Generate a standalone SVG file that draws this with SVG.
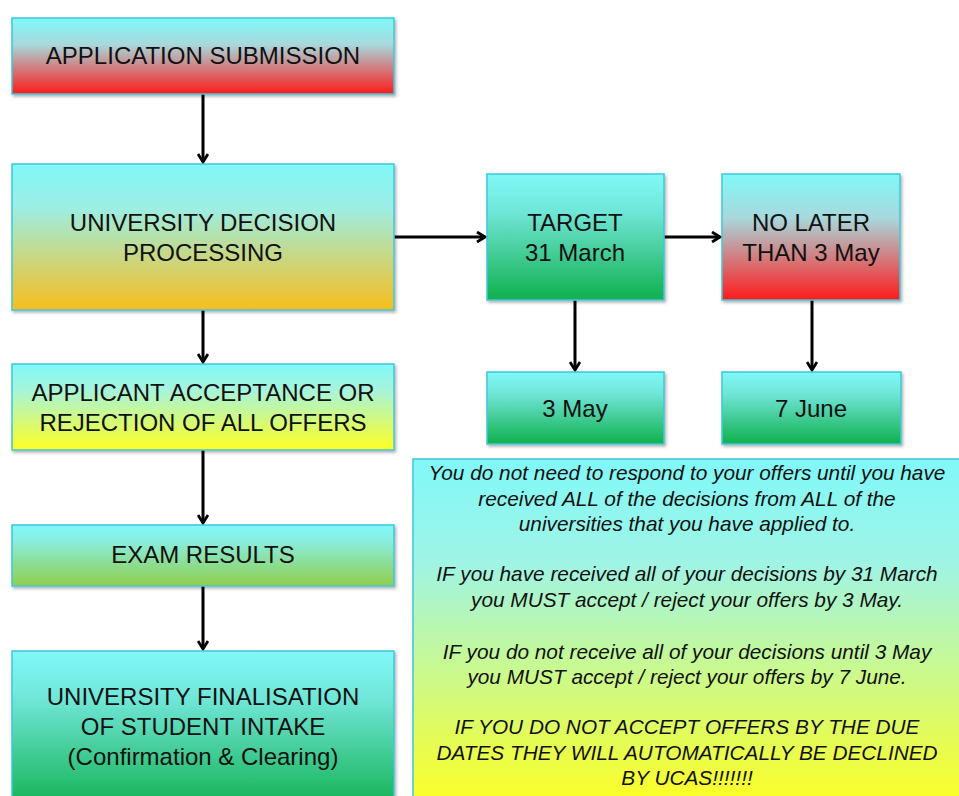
<svg xmlns="http://www.w3.org/2000/svg" width="959" height="796" viewBox="0 0 959 796">
<defs>
<linearGradient id="gRed" x1="0" y1="0" x2="0" y2="1"><stop offset="0" stop-color="#80F8F8"/><stop offset="0.35" stop-color="#A8D8DC"/><stop offset="1" stop-color="#FF1A1A"/></linearGradient>
<linearGradient id="gOrange" x1="0" y1="0" x2="0" y2="1"><stop offset="0" stop-color="#80F8F8"/><stop offset="0.3" stop-color="#9CEEE4"/><stop offset="1" stop-color="#F8BE1C"/></linearGradient>
<linearGradient id="gYellow" x1="0" y1="0" x2="0" y2="1"><stop offset="0" stop-color="#80F8F8"/><stop offset="0.3" stop-color="#A6F4DC"/><stop offset="1" stop-color="#FFFF20"/></linearGradient>
<linearGradient id="gLime" x1="0" y1="0" x2="0" y2="1"><stop offset="0" stop-color="#80F8F8"/><stop offset="0.25" stop-color="#88EEE0"/><stop offset="1" stop-color="#90CE4C"/></linearGradient>
<linearGradient id="gGreen" x1="0" y1="0" x2="0" y2="1"><stop offset="0" stop-color="#80F8F8"/><stop offset="0.3" stop-color="#70E6D8"/><stop offset="1" stop-color="#10B04E"/></linearGradient>
<linearGradient id="gNote" x1="0" y1="0" x2="0" y2="1"><stop offset="0" stop-color="#80F8F8"/><stop offset="0.3" stop-color="#A0F4E4"/><stop offset="1" stop-color="#FFFF20"/></linearGradient>
<filter id="sh" x="-5%" y="-5%" width="110%" height="115%"><feDropShadow dx="1.5" dy="2" stdDeviation="1.5" flood-color="#000" flood-opacity="0.3"/></filter>
<marker id="ah" viewBox="0 0 12 12" refX="10" refY="6" markerWidth="12" markerHeight="12" markerUnits="userSpaceOnUse" orient="auto"><path d="M2,1 L10,6 L2,11" fill="none" stroke="#000" stroke-width="2.8"/></marker>
</defs>
<style>
.box{stroke:#3CC8DC;stroke-width:1.5;filter:url(#sh)}
.t{font-family:"Liberation Sans",Arial,sans-serif;font-size:24px;fill:#111;text-anchor:middle}
.n{font-family:"Liberation Sans",Arial,sans-serif;font-size:20.8px;font-style:italic;fill:#111;text-anchor:middle}
.c{stroke:#000;stroke-width:3;fill:none;marker-end:url(#ah)}
</style>
<rect width="959" height="796" fill="#fff"/>
<g id="connectors">
<line class="c" x1="203" y1="94" x2="203" y2="162"/>
<line class="c" x1="203" y1="310" x2="203" y2="362"/>
<line class="c" x1="203" y1="450" x2="203" y2="523"/>
<line class="c" x1="203" y1="586" x2="203" y2="649"/>
<line class="c" x1="394" y1="237" x2="485" y2="237"/>
<line class="c" x1="664" y1="237" x2="720" y2="237"/>
<line class="c" x1="575" y1="300" x2="575" y2="370"/>
<line class="c" x1="812" y1="300" x2="812" y2="370"/>
</g>
<g id="submission">
<rect class="box" x="12" y="18" width="382" height="76" fill="url(#gRed)"/>
<text class="t" x="203" y="64">APPLICATION  SUBMISSION</text>
</g>
<g id="decision">
<rect class="box" x="12" y="164" width="382" height="146" fill="url(#gOrange)"/>
<text class="t" x="203" y="231">UNIVERSITY  DECISION</text>
<text class="t" x="203" y="261">PROCESSING</text>
</g>
<g id="acceptance">
<rect class="box" x="12" y="364" width="382" height="86" fill="url(#gYellow)"/>
<text class="t" x="203" y="401">APPLICANT ACCEPTANCE OR</text>
<text class="t" x="203" y="431">REJECTION OF ALL OFFERS</text>
</g>
<g id="exam">
<rect class="box" x="12" y="525" width="382" height="61" fill="url(#gLime)"/>
<text class="t" x="203" y="563">EXAM  RESULTS</text>
</g>
<g id="finalisation">
<rect class="box" x="12" y="651" width="382" height="160" fill="url(#gGreen)"/>
<text class="t" x="203" y="705">UNIVERSITY  FINALISATION</text>
<text class="t" x="203" y="735">OF STUDENT INTAKE</text>
<text class="t" x="203" y="765">(Confirmation &amp; Clearing)</text>
</g>
<g id="target">
<rect class="box" x="487" y="174" width="177" height="126" fill="url(#gGreen)"/>
<text class="t" x="575" y="231">TARGET</text>
<text class="t" x="575" y="261">31 March</text>
</g>
<g id="nolater">
<rect class="box" x="722" y="174" width="178" height="126" fill="url(#gRed)"/>
<text class="t" x="811" y="231">NO LATER</text>
<text class="t" x="811" y="261">THAN 3 May</text>
</g>
<g id="may3">
<rect class="box" x="487" y="372" width="177" height="72" fill="url(#gGreen)"/>
<text class="t" x="575" y="417">3 May</text>
</g>
<g id="june7">
<rect class="box" x="722" y="372" width="179" height="72" fill="url(#gGreen)"/>
<text class="t" x="811" y="417">7 June</text>
</g>
<g id="note">
<rect class="box" x="413" y="459" width="560" height="350" fill="url(#gNote)"/>
<text class="n" x="687" y="480">You do not need to respond to your offers until you have</text>
<text class="n" x="687" y="506">received ALL of the decisions from ALL of the</text>
<text class="n" x="687" y="531">universities that you have applied to.</text>
<text class="n" x="687" y="581">IF you have received all of your decisions by 31 March</text>
<text class="n" x="687" y="607">you MUST accept / reject your offers by 3 May.</text>
<text class="n" x="687" y="659">IF you do not receive all of your decisions until 3 May</text>
<text class="n" x="687" y="684">you MUST accept / reject your offers by 7 June.</text>
<text class="n" x="687" y="734">IF YOU DO NOT ACCEPT OFFERS BY THE DUE</text>
<text class="n" x="687" y="760">DATES THEY WILL AUTOMATICALLY BE DECLINED</text>
<text class="n" x="687" y="785">BY UCAS!!!!!!!</text>
</g>
</svg>
